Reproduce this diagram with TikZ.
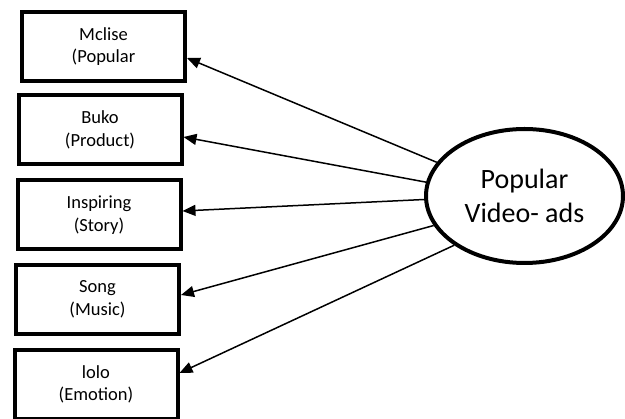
\documentclass[tikz,border=0pt]{standalone}
\usepackage{fontspec}
\setmainfont{Carlito}
\usetikzlibrary{shapes,arrows.meta,positioning,calc}

\begin{document}
\begin{tikzpicture}[x=1pt, y=-1pt,
    box/.style={draw, line width=4pt, minimum width=163pt, minimum height=69pt,
        inner sep=0pt, align=center, font=\fontsize{18.5}{22.6}\selectfont},
    oval/.style={draw, ellipse, line width=4pt, minimum width=197pt, minimum height=134pt,
        inner sep=0pt, align=center, font=\fontsize{28}{34}\selectfont},
    link/.style={line width=1.5pt, -{Triangle[length=13pt,width=11pt]}}]
    \useasboundingbox (0,0) rectangle (625,419);

    % Boxes
    \node[box] (mclise) at (103.5,46.5) {Mclise\\(Popular};
    \node[box] (buko) at (100,130) {Buko\\(Product)};
    \node[box] (inspiring) at (99,215) {Inspiring\\(Story)};
    \node[box] (song) at (97.5,299.5) {Song\\(Music)};
    \node[box] (lolo) at (96,384.5) {lolo\\(Emotion)};

    % Oval
    \node[oval] (popular) at (524.5,196) {Popular\\Video- ads};

    % Arrows
    \draw[link] (popular.159) -- ([yshift=-11.5pt]mclise.east);
    \draw[link] (popular.172) -- ([yshift=-7pt]buko.east);
    \draw[link] (popular.182) -- ([yshift=4pt]inspiring.east);
    \draw[link] (popular.198) -- ([yshift=4.5pt]song.east);
    \draw[link] (popular.215) -- ([yshift=11.5pt]lolo.east);
\end{tikzpicture}
\end{document}
